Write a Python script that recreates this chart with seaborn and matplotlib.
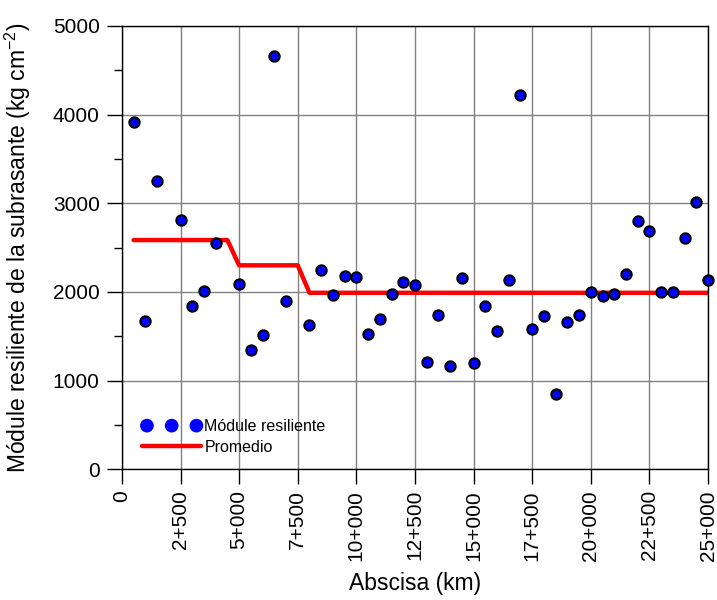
import matplotlib
matplotlib.use("Agg")
import matplotlib.pyplot as plt
import seaborn as sns
import pandas as pd
from matplotlib.ticker import MultipleLocator

abscisa = [500, 1000, 1500, 2500, 3000, 3500, 4000, 5000, 5500, 6000, 6500, 7000,
           8000, 8500, 9000, 9500, 10000, 10500, 11000, 11500, 12000, 12500, 13000,
           13500, 14000, 14500, 15000, 15500, 16000, 16500, 17000, 17500, 18000,
           18500, 19000, 19500, 20000, 20500, 21000, 21500, 22000, 22500, 23000,
           23500, 24000, 24500, 25000]
modulo = [3920, 1670, 3250, 2810, 1840, 2015, 2550, 2085, 1340, 1510, 4665, 1895,
          1625, 2250, 1960, 2185, 2165, 1525, 1700, 1980, 2110, 2075, 1210,
          1735, 1160, 2155, 1195, 1840, 1560, 2135, 4220, 1585, 1725,
          845, 1665, 1745, 1995, 1955, 1980, 2200, 2805, 2685, 2000,
          2000, 2605, 3010, 2140]

prom_x = [500, 4500, 5000, 7500, 8000, 25000]
prom_y = [2585, 2585, 2300, 2300, 1990, 1990]

xticks = [0, 2500, 5000, 7500, 10000, 12500, 15000, 17500, 20000, 22500, 25000]
xlabels = ["0", "2+500", "5+000", "7+500", "10+000", "12+500", "15+000",
           "17+500", "20+000", "22+500", "25+000"]
yticks = [0, 1000, 2000, 3000, 4000, 5000]
ylabels = ["0", "1000", "2000", "3000", "4000", "5000"]

sns.set_style("white")
plt.rcParams['font.family'] = ['Liberation Sans', 'DejaVu Sans']
plt.rcParams['mathtext.fontset'] = 'custom'
plt.rcParams['mathtext.rm'] = 'Liberation Sans'
plt.rcParams['mathtext.it'] = 'Liberation Sans'
for k in ['text.color', 'axes.labelcolor', 'xtick.color', 'ytick.color']:
    plt.rcParams[k] = 'black'

df_pts = pd.DataFrame({"x": abscisa, "y": modulo})
df_prom = pd.DataFrame({"x": prom_x, "y": prom_y})

fig = plt.figure(figsize=(7.17, 6.0), dpi=100)
ax = fig.add_axes([0.170, 0.218, 0.8175, 0.7387])

ax.grid(True, color="#808080", linewidth=1.0, zorder=0)
ax.set_axisbelow(True)

sns.lineplot(data=df_prom, x="x", y="y", sort=False, estimator=None, color="#ff0000",
             linewidth=3.2, ax=ax, label="Promedio", zorder=2)
sns.scatterplot(data=df_pts, x="x", y="y", color="#0000ff", edgecolor="black",
                linewidth=1.5, s=55, ax=ax, label="Módule resiliente", zorder=3,
                clip_on=False)

ax.set_xlim(0, 25000)
ax.set_ylim(0, 5000)
ax.set_xticks(xticks)
ax.set_xticklabels(xlabels, rotation=90, fontsize=15)
ax.set_yticks(yticks)
ax.set_yticklabels(ylabels, fontsize=15)
ax.yaxis.set_minor_locator(MultipleLocator(500))
ax.tick_params(axis="y", which="major", direction="out", length=11, width=1, left=True, pad=5)
ax.tick_params(axis="y", which="minor", direction="out", length=5.5, width=1, left=True)
ax.tick_params(axis="x", which="major", direction="out", length=11, width=1, bottom=True, pad=4)

for sp in ax.spines.values():
    sp.set_color("black")
    sp.set_linewidth(1.0)

ax.set_xlabel("Abscisa (km)", fontsize=16.5)
ax.set_ylabel("Módule resiliente de la subrasante (kg cm$^{-2}$)", fontsize=16.5)
ax.xaxis.set_label_coords(0.5, -0.2325)
ax.yaxis.set_label_coords(-0.152, 0.5)

handles, labels = ax.get_legend_handles_labels()
order = [labels.index("Módule resiliente"), labels.index("Promedio")]
leg = ax.legend([handles[i] for i in order], [labels[i] for i in order],
                loc="lower left", bbox_to_anchor=(0.01, 0.0), frameon=False,
                fontsize=11.5, scatterpoints=3, scatteryoffsets=[0.5],
                handlelength=3.7, handletextpad=0.2,
                labelspacing=0.35, borderaxespad=0.5)
mh = leg.legend_handles[0]
mh.set_edgecolor("#0000ff")
mh.set_sizes([70, 70, 70])

fig.savefig("out.png", dpi=100)
